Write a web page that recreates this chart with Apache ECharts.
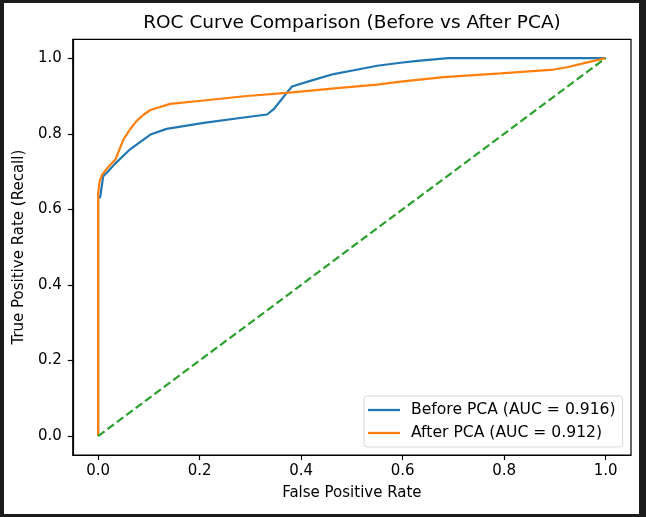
<!DOCTYPE html>
<html>
<head>
<meta charset="utf-8">
<script src="https://cdn.jsdelivr.net/npm/echarts@6/dist/echarts.min.js"></script>
<style>
  html, body { margin: 0; padding: 0; width: 646px; height: 517px; overflow: hidden; background: #1b1b1b; }
  #roc { position: absolute; left: 4px; top: 3px; width: 635px; height: 511px; background: #fff; }
</style>
</head>
<body>
<div id="roc"></div>
<script>
// ROC points
const beforeFpr = [0, 0, 0.004, 0.010, 0.020, 0.032, 0.063, 0.103, 0.135, 0.208, 0.287, 0.333, 0.346, 0.372, 0.382, 0.418, 0.464, 0.504, 0.550, 0.596, 0.629, 0.690, 1.0];
const beforeTpr = [0, 0.630, 0.632, 0.688, 0.701, 0.719, 0.759, 0.798, 0.813, 0.829, 0.843, 0.851, 0.865, 0.909, 0.925, 0.940, 0.958, 0.968, 0.980, 0.988, 0.993, 1.0, 1.0];

const afterFpr = [0, 0, 0.003, 0.008, 0.020, 0.034, 0.050, 0.063, 0.076, 0.090, 0.103, 0.142, 0.208, 0.293, 0.372, 0.471, 0.550, 0.596, 0.681, 0.793, 0.898, 0.924, 0.964, 1.0];
const afterTpr = [0, 0.640, 0.675, 0.692, 0.712, 0.732, 0.785, 0.812, 0.834, 0.851, 0.863, 0.879, 0.888, 0.900, 0.908, 0.921, 0.930, 0.938, 0.950, 0.960, 0.970, 0.976, 0.989, 1.0];

const chanceFpr = [0, 1];
const chanceTpr = [0, 1];

const tickValues = [0, 0.2, 0.4, 0.6, 0.8, 1.0];
const seriesNames = ['Before PCA (AUC = 0.916)', 'After PCA (AUC = 0.912)'];

const FONT = 'DejaVu Sans';

function pairs(xs, ys) {
    return xs.map(function (x, i) { return [x, ys[i]]; });
}

const rocChart = echarts.init(document.getElementById('roc'));

const axisCommon = {
    type: 'value',
    min: -0.05,
    max: 1.05,
    nameLocation: 'middle',
    nameTextStyle: { fontFamily: FONT, fontSize: 15, color: '#000' },
    axisLine: { show: true, onZero: false, lineStyle: { color: '#000', width: 1.2 } },
    axisTick: { show: true, length: 5, customValues: tickValues, lineStyle: { color: '#000', width: 1.2 } },
    axisLabel: {
        customValues: tickValues,
        fontFamily: FONT,
        fontSize: 15,
        color: '#000',
        formatter: function (v) { return v.toFixed(1); }
    },
    splitLine: { show: false }
};

const option = {
    animation: false,
    graphic: [{
        type: 'text',
        x: 348,
        y: 20.5,
        style: {
            text: 'ROC Curve Comparison (Before vs After PCA)',
            fontFamily: FONT,
            fontSize: 18.5,
            fill: '#000',
            align: 'center',
            verticalAlign: 'middle'
        }
    }],
    grid: {
        left: 68.7,
        top: 36.3,
        width: 558.3,
        height: 415.7,
        show: true,
        borderColor: '#000',
        borderWidth: 1.2
    },
    legend: {
        data: seriesNames,
        orient: 'vertical',
        left: 360,
        top: 393,
        icon: 'rect',
        itemWidth: 32,
        itemHeight: 2.3,
        itemGap: 7,
        padding: [6, 7, 6, 4],
        backgroundColor: 'rgba(255,255,255,0.8)',
        borderColor: '#d6d6d6',
        borderWidth: 1,
        borderRadius: 3,
        textStyle: { fontFamily: FONT, fontSize: 15.6, color: '#000', padding: [0, 0, 0, 6] }
    },
    xAxis: Object.assign({}, axisCommon, {
        name: 'False Positive Rate',
        nameGap: 31,
        axisLabel: Object.assign({}, axisCommon.axisLabel, { margin: 9 })
    }),
    yAxis: Object.assign({}, axisCommon, {
        name: 'True Positive Rate (Recall)',
        nameGap: 40,
        axisLabel: Object.assign({}, axisCommon.axisLabel, { margin: 11 })
    }),
    series: [
        {
            name: seriesNames[0],
            type: 'line',
            data: pairs(beforeFpr, beforeTpr),
            showSymbol: false,
            itemStyle: { color: '#1f77b4' },
            lineStyle: { color: '#1f77b4', width: 2.2 },
            z: 2
        },
        {
            name: seriesNames[1],
            type: 'line',
            data: pairs(afterFpr, afterTpr),
            showSymbol: false,
            itemStyle: { color: '#ff7f0e' },
            lineStyle: { color: '#ff7f0e', width: 2.2 },
            z: 3
        },
        {
            name: 'chance',
            type: 'line',
            data: pairs(chanceFpr, chanceTpr),
            showSymbol: false,
            lineStyle: { color: '#2ca02c', width: 2.2, type: [8, 3.7] },
            z: 4
        }
    ]
};

rocChart.setOption(option);
</script>
</body>
</html>
